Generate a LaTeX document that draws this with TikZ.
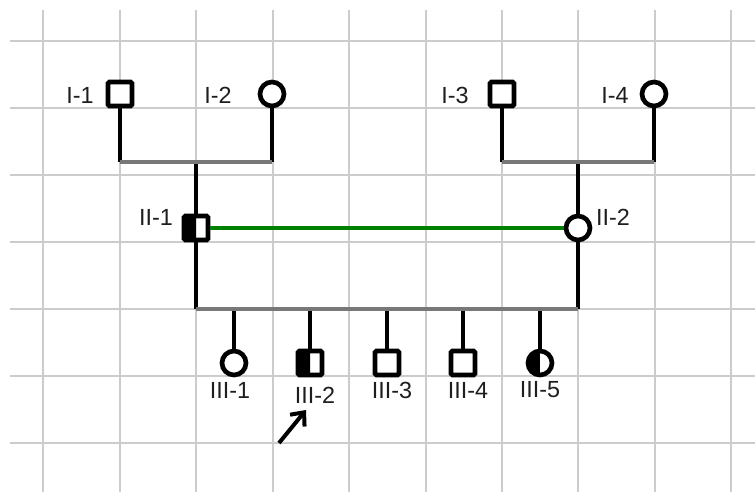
\documentclass[tikz,border=0pt]{standalone}
\usepackage{fontspec}
\setmainfont{Liberation Sans}
\usetikzlibrary{arrows.meta}
\definecolor{gridc}{RGB}{204,204,204}
\definecolor{sibc}{RGB}{120,120,120}
\definecolor{matec}{RGB}{0,128,0}
\definecolor{txtc}{RGB}{30,30,30}
\tikzset{
  male/.style={rectangle, draw=black, fill=white, line width=3.5pt, minimum size=18pt, inner sep=0pt, rounded corners=1pt},
  female/.style={circle, draw=black, fill=white, line width=3.5pt, minimum size=18pt, inner sep=0pt},
  halfaff/.style={path picture={\fill[black] (path picture bounding box.south west) rectangle (path picture bounding box.north);}},
  lbl/.style={inner sep=0pt, font=\fontsize{17.5}{17.5}\selectfont, text=txtc},
  kin/.style={line width=3.4pt, black},
  sib/.style={line width=2.6pt, sibc},
  mate/.style={line width=2.9pt, matec},
  gridl/.style={line width=1pt, gridc}
}
\begin{document}
\begin{tikzpicture}[x=0.75pt,y=-0.75pt]
\useasboundingbox (0,0) rectangle (755,492);
\fill[white] (0,0) rectangle (755,492);
% grid
\foreach \gx in {43,120,196,273,349,426,502,578,655,731}
  \draw[gridl] (\gx,10) -- (\gx,492);
\foreach \gy in {41,108,175,242,309,376,443}
  \draw[gridl] (10,\gy) -- (755,\gy);
% coordinates
\coordinate (m1) at (196,162);
\coordinate (m2) at (578,162);
\coordinate (s) at (387,309);
% individuals
\node[male]   (I1) at (120,94) {};
\node[female] (I2) at (272,94) {};
\node[male]   (I3) at (502,94) {};
\node[female] (I4) at (654,94) {};
\node[male, halfaff]   (II1) at (196,228) {};
\node[female] (II2) at (578,228) {};
\node[female] (III1) at (234,363) {};
\node[male, halfaff]   (III2) at (310,363) {};
\node[male]   (III3) at (387,363) {};
\node[male]   (III4) at (463,363) {};
\node[female, halfaff] (III5) at (540,363) {};
% connectors
\draw[kin] (I1.south) -- (I1.south |- m1);
\draw[kin] (I2.south) -- (I2.south |- m1);
\draw[kin] (I3.south) -- (I3.south |- m2);
\draw[kin] (I4.south) -- (I4.south |- m2);
\draw[kin] (m1) -- (II1.north);
\draw[kin] (m2) -- (II2.north);
\draw[kin] (II1.south) -- (II1.south |- s);
\draw[kin] (II2.south) -- (II2.south |- s);
\foreach \c in {III1,III2,III3,III4,III5}
  \draw[kin] (\c.north |- s) -- (\c.north);
\draw[sib] (I1.south |- m1) -- (I2.south |- m1);
\draw[sib] (I3.south |- m2) -- (I4.south |- m2);
\draw[sib] (II1.south |- s) -- (II2.south |- s);
\draw[mate] (II1.east) -- (II2.west);
% labels
\node[lbl] (lI1) at (80,95) {I-1};
\node[lbl] (lI2) at (218,95) {I-2};
\node[lbl] (lI3) at (455,95) {I-3};
\node[lbl] (lI4) at (615,95) {I-4};
\node[lbl] (lII1) at (156,217) {II-1};
\node[lbl] (lII2) at (613,217) {II-2};
\node[lbl] (lIII1) at (230,390) {III-1};
\node[lbl] (lIII2) at (315,395) {III-2};
\node[lbl] (lIII3) at (392,390) {III-3};
\node[lbl] (lIII4) at (468,390) {III-4};
\node[lbl] (lIII5) at (540,390) {III-5};
% proband arrow
\coordinate (pa) at (279,443);
\coordinate (pb) at (306,410);
\draw[line width=3pt, -{Straight Barb[length=8pt,width=14pt,line width=3pt]}] (pa) -- (pb);
\end{tikzpicture}
\end{document}
